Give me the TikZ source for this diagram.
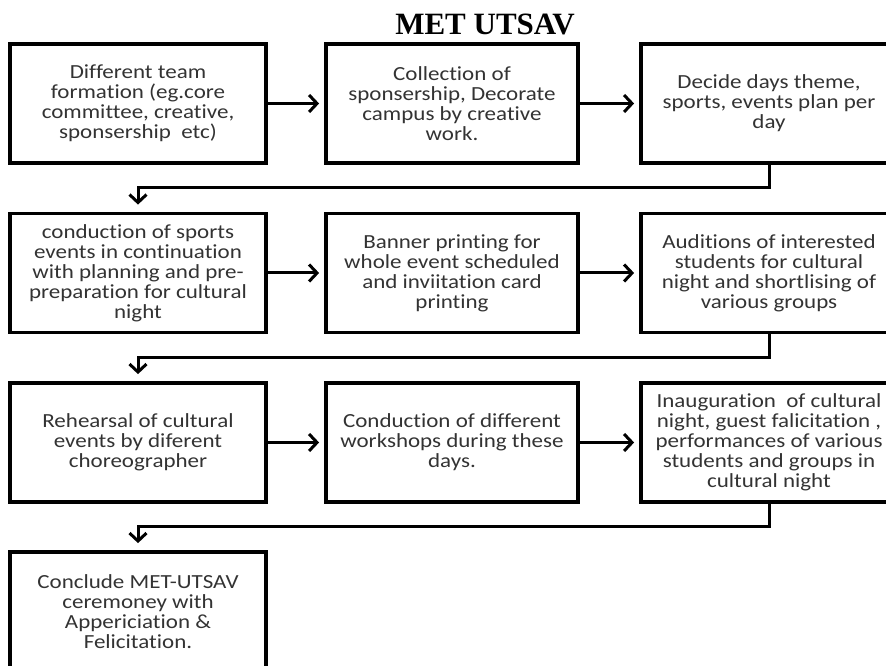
\documentclass[tikz,border=0pt]{standalone}
\usepackage{fontspec}
\newfontfamily\boxfont[FakeStretch=1.15,Ligatures=NoCommon]{Carlito}
\newfontfamily\titlefont{Liberation Serif}
\usetikzlibrary{arrows.meta}
\begin{document}
\begin{tikzpicture}[x=1pt,y=1pt,
  stepbox/.style={draw=black, line width=3.8pt, minimum height=119pt, inner sep=0pt,
    align=center, font=\boxfont\fontsize{20}{20}\selectfont, text=black!80},
  wbox/.style={stepbox, minimum width=256pt},
  nbox/.style={stepbox, minimum width=252pt},
  conn/.style={draw=black, line width=3pt, -{Straight Barb[length=8pt,width=17pt]}},
  hconn/.style={conn, shorten >=5pt},
  vconn/.style={conn, shorten >=7pt}
]
\useasboundingbox (0,0) rectangle (886,666);
\fill[white] (0,0) rectangle (886,666);
\node[font=\titlefont\bfseries\fontsize{31}{31}\selectfont] (title) at (485,642) {MET UTSAV};

\node[wbox] (a1) at (138,562.5) {Different team\\formation (eg.core\\committee, creative,\\sponsership\ \ etc)};
\node[nbox] (a2) at (452,562.5) {Collection of\\sponsership, Decorate\\campus by creative\\work.};
\node[wbox] (a3) at (769,562.5) {Decide days theme,\\sports, events plan per\\day};

\node[wbox] (b1) at (138,393) {conduction of sports\\events in continuation\\with planning and pre-\\preparation for cultural\\night};
\node[nbox] (b2) at (452,393) {Banner printing for\\whole event scheduled\\and inviitation card\\printing};
\node[wbox] (b3) at (769,393) {Auditions of interested\\students for cultural\\night and shortlising of\\various groups};

\node[wbox] (c1) at (138,223.5) {Rehearsal of cultural\\events by diferent\\choreographer};
\node[nbox] (c2) at (452,223.5) {Conduction of different\\workshops during these\\days.};
\node[wbox] (c3) at (769,223.5) {Inauguration\ \ of cultural\\night, guest falicitation ,\\performances of various\\students and groups in\\cultural night};

\node[wbox] (d1) at (138,54.5) {Conclude MET-UTSAV\\ceremoney with\\Appericiation \&\\Felicitation.};

\coordinate (m1) at (0,478);
\coordinate (m2) at (0,308);
\coordinate (m3) at (0,139);

\draw[hconn] (a1.east) -- (a2.west);
\draw[hconn] (a2.east) -- (a3.west);
\draw[hconn] (b1.east) -- (b2.west);
\draw[hconn] (b2.east) -- (b3.west);
\draw[hconn] (c1.east) -- (c2.west);
\draw[hconn] (c2.east) -- (c3.west);

\draw[vconn] (a3.south) |- (m1 -| b1.north) -- (b1.north);
\draw[vconn] (b3.south) |- (m2 -| c1.north) -- (c1.north);
\draw[vconn] (c3.south) |- (m3 -| d1.north) -- (d1.north);
\end{tikzpicture}
\end{document}
